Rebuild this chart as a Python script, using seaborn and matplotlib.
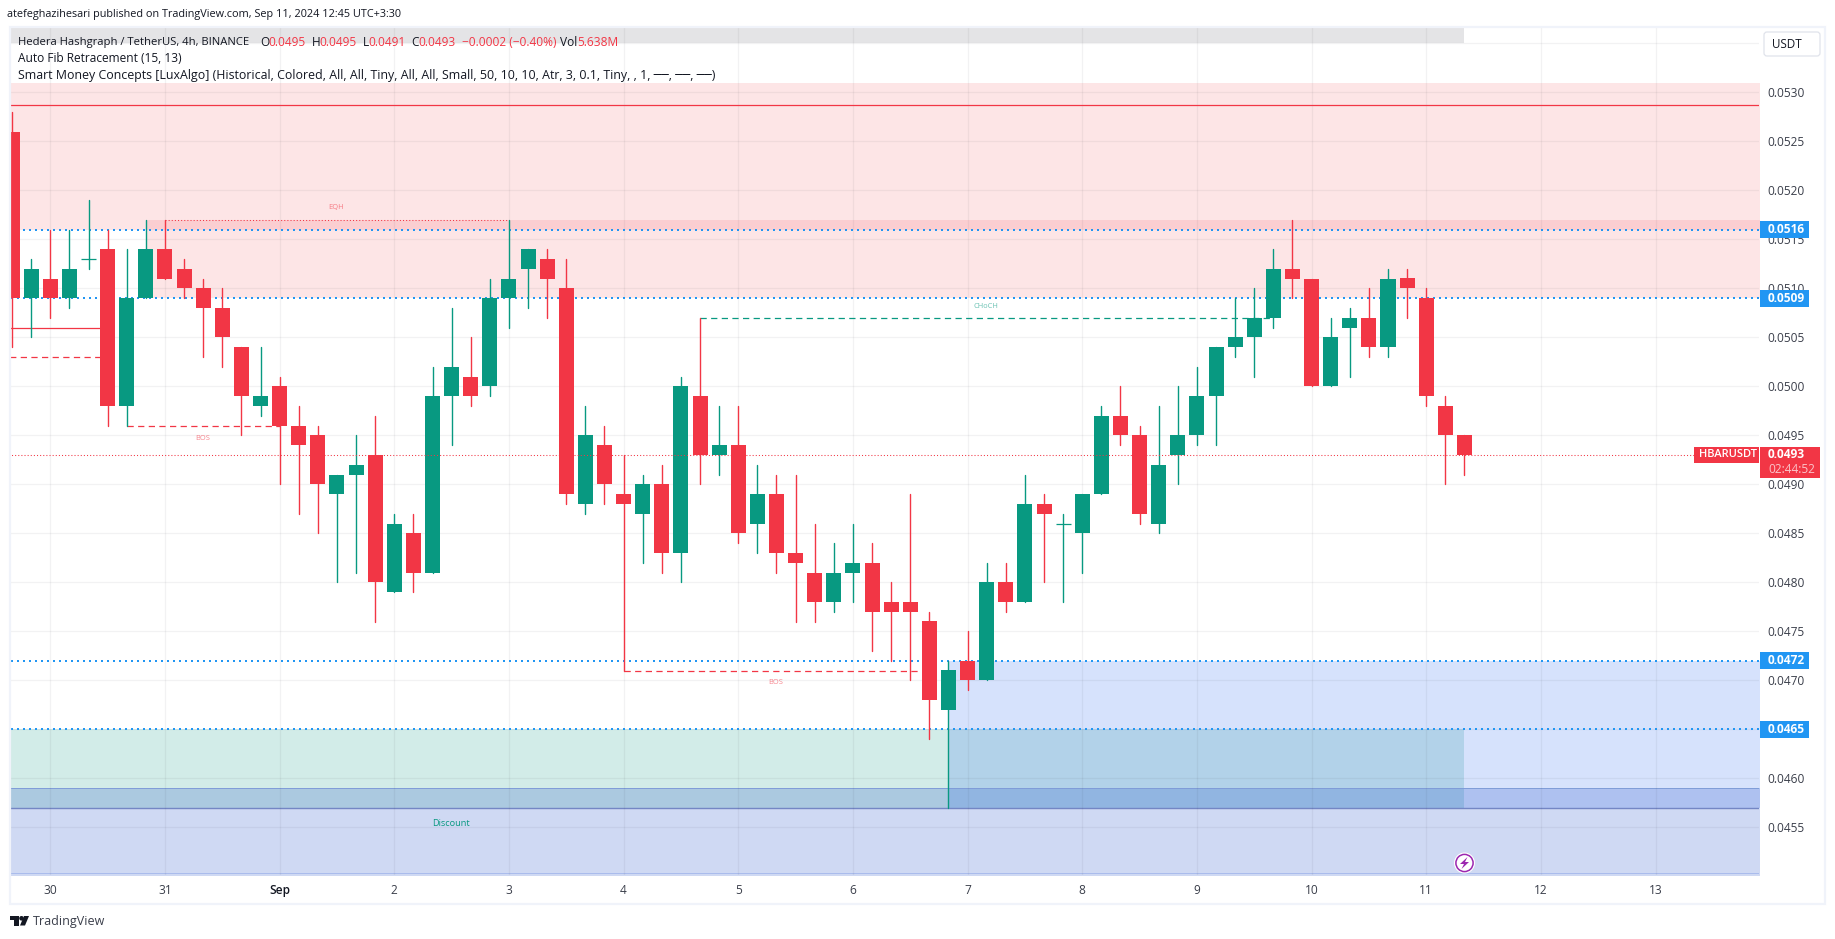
"""HBARUSDT 4h candles with Smart Money Concepts zones, TradingView layout."""

import matplotlib.pyplot as plt
import numpy as np
import pandas as pd
import seaborn as sns
from matplotlib.patches import Circle, FancyBboxPatch, Polygon, Rectangle
from matplotlib.transforms import Affine2D

# ── Data: prices in units of 0.0001 ───────────────────────────────
opens = [526, 509, 511, 509, 513, 514, 498, 509, 514, 512, 510, 508, 504, 498, 500, 496, 495, 489, 491, 493,
         479, 485, 481, 499, 501, 500, 509, 512, 513, 510, 488, 494, 489, 487, 490, 483, 499, 493, 494, 486,
         489, 483, 481, 478, 481, 482, 478, 478, 476, 467, 472, 470, 480, 478, 488, 486, 485, 489, 497, 495,
         486, 493, 495, 499, 504, 505, 507, 512, 511, 500, 506, 507, 504, 511, 509, 498, 495]
highs = [528, 513, 516, 516, 519, 516, 514, 517, 517, 513, 511, 510, 504, 504, 501, 498, 496, 491, 495, 497,
         487, 487, 502, 508, 505, 511, 517, 514, 514, 513, 498, 496, 493, 491, 492, 501, 507, 498, 498, 492,
         491, 491, 486, 484, 486, 484, 480, 489, 477, 472, 475, 482, 482, 491, 489, 487, 489, 498, 500, 496,
         498, 500, 502, 504, 509, 510, 514, 517, 511, 507, 508, 510, 512, 512, 510, 499, 495]
lows = [504, 505, 507, 508, 512, 496, 496, 509, 511, 509, 503, 502, 495, 497, 490, 487, 485, 480, 481, 476,
        479, 479, 481, 494, 498, 499, 506, 508, 507, 488, 487, 488, 471, 482, 481, 480, 490, 491, 484, 483,
        481, 476, 476, 477, 478, 473, 472, 470, 464, 457, 469, 470, 477, 478, 480, 478, 481, 489, 494, 486,
        485, 490, 494, 494, 503, 501, 506, 509, 500, 500, 501, 503, 503, 507, 498, 490, 491]
closes = [509, 512, 509, 512, 513, 498, 509, 514, 511, 510, 508, 505, 499, 499, 496, 494, 490, 491, 492, 480,
          486, 481, 499, 502, 499, 509, 511, 514, 511, 489, 495, 490, 488, 490, 483, 500, 493, 494, 485, 489,
          483, 482, 478, 481, 482, 477, 477, 477, 468, 471, 470, 480, 478, 488, 487, 486, 489, 497, 495, 487,
          492, 495, 499, 504, 505, 507, 512, 511, 500, 505, 507, 504, 511, 510, 499, 495, 493]

day_ticks = [2, 8, 14, 20, 26, 32, 38, 44, 50, 56, 62, 68, 74, 80, 86]
day_labels = ["30", "31", "Sep", "2", "3", "4", "5", "6", "7", "8", "9", "10", "11", "12", "13"]
price_ticks = [0.0535, 0.0530, 0.0525, 0.0520, 0.0515, 0.0510, 0.0505, 0.0500, 0.0495, 0.0490,
               0.0485, 0.0480, 0.0475, 0.0470, 0.0465, 0.0460, 0.0455]
price_labels = ["", "0.0530", "0.0525", "0.0520", "0.0515", "0.0510", "0.0505", "0.0500", "0.0495", "0.0490",
                "0.0485", "0.0480", "0.0475", "0.0470", "", "0.0460", "0.0455"]

# zones: start and end candle, low and high price
zone_starts = [-1, 7, -1, 49, -1, -1]
zone_ends = [92, 92, 76, 92, 92, 76]
zone_lows = [0.0516, 0.0509, 0.0457, 0.0457, 0.0450, 0.0535]
zone_highs = [0.0531, 0.0517, 0.0465, 0.0472, 0.0459, 0.0540]
zone_colors = ["#F23645", "#F23645", "#089981", "#326EF0", "#0F41C3", "#787B86"]
zone_alphas = [0.13, 0.13, 0.18, 0.20, 0.20, 0.20]

fib_levels = [0.0516, 0.0509, 0.0472, 0.0465]
fib_labels = ["0.0516", "0.0509", "0.0472", "0.0465"]
last_price = 0.0493
top_level = 0.05287

# structure lines: start candle, end candle, price
bos_starts = [-1, 6, 32]
bos_ends = [5, 14, 48]
bos_prices = [0.0503, 0.0496, 0.0471]

# ── Layout in pixels ──────────────────────────────────────────────
W, H = 1835, 939
AX_L, AX_R, AX_T, AX_B = 10, 1759, 27, 875
PX_PER_PRICE = 98000
X0, X_STEP = 12.08, 19.11

RED = "#F23645"
GREEN = "#089981"
BLUE = "#2196F3"
DARK = "#131722"
FRAME = "#F0F3FA"

sns.set_theme(style="white")
plt.rcParams["font.family"] = ["Open Sans", "DejaVu Sans"]

df = pd.DataFrame({
    "i": np.arange(len(opens)),
    "open": np.array(opens) / 10000,
    "high": np.array(highs) / 10000,
    "low": np.array(lows) / 10000,
    "close": np.array(closes) / 10000,
})
df["up"] = df["close"] >= df["open"]
df["body_low"] = df[["open", "close"]].min(axis=1)
df["body_size"] = (df["close"] - df["open"]).abs()

fig = plt.figure(figsize=(W / 100, H / 100), dpi=100, facecolor="white")
ax = fig.add_axes([AX_L / W, 1 - AX_B / H, (AX_R - AX_L) / W, (AX_B - AX_T) / H])

# transform for everything placed in screen pixels, y going down
px = Affine2D().scale(1, -1).translate(0, H)

# zones
for x0, x1, y0, y1, cor, alfa in zip(zone_starts, zone_ends, zone_lows, zone_highs, zone_colors, zone_alphas):
    ax.fill_between([x0, x1], y0, y1, color=cor, alpha=alfa, lw=0, zorder=1)
ax.hlines(0.0459, -1, 92, color="#7F9CD8", lw=0.7, zorder=1.5)
ax.hlines(0.0457, -1, 92, color="#7486C4", lw=1.0, zorder=1.5)
ax.hlines(0.04503, -1, 92, color="#A9BCEC", lw=0.7, zorder=1.5)

# levels under the candles
ax.hlines(fib_levels, -1, 92, color=BLUE, lw=1.44, linestyles=[(0, (1, 2))], zorder=2.6)
ax.hlines(top_level, -1, 92, color=RED, lw=0.9, zorder=2.6)
ax.hlines(0.0506, -1, 5, color=RED, lw=0.9, zorder=2.6)
ax.hlines(0.0517, 8, 26, color=RED, lw=0.75, linestyles=[(0, (1, 2))], zorder=2.6)
ax.hlines(bos_prices, bos_starts, bos_ends, color=RED, lw=0.9, linestyles=[(0, (5, 3.5))], zorder=2.6)
ax.hlines(0.0507, 36, 66, color=GREEN, lw=0.9, linestyles=[(0, (5, 3.5))], zorder=2.6)

# wicks
wicks = df.melt(id_vars=["i", "up"], value_vars=["high", "low"], value_name="price")
sns.lineplot(
    data=wicks, x="i", y="price", units="i", estimator=None, sort=False,
    hue="up", palette={True: GREEN, False: RED}, lw=1.0, legend=False, ax=ax, zorder=3,
)

# candle bodies
sns.barplot(
    data=df, x="i", y="body_size", bottom=df["body_low"], native_scale=True,
    width=0.785, color=GREEN, linewidth=0, saturation=1, ax=ax, zorder=3,
)
for barra, up, tamanho in zip(ax.patches, df["up"], df["body_size"]):
    cor = GREEN if up else RED
    barra.set_facecolor(cor)
    if tamanho == 0:  # doji
        barra.set_edgecolor(cor)
        barra.set_linewidth(0.9)

ax.hlines(last_price, -1, 88.2, color=RED, lw=0.75, linestyles=[(0, (1, 2))], zorder=4)

# axes
ax.set_xlim((AX_L - X0) / X_STEP, (AX_R - X0) / X_STEP)
ax.set_ylim(0.0530 - (AX_B - 92.3) / PX_PER_PRICE, 0.0530 + (92.3 - AX_T) / PX_PER_PRICE)
ax.set_xlabel("")
ax.set_ylabel("")
ax.set_xticks(day_ticks, day_labels)
ax.set_yticks(price_ticks, price_labels)
ax.yaxis.tick_right()
ax.tick_params(axis="both", length=0, labelsize=8.6, labelcolor="#3A3E4A")
ax.tick_params(axis="x", pad=6.5)
ax.tick_params(axis="y", pad=6.2)
for rotulo in ax.get_xticklabels():
    if rotulo.get_text() == "Sep":
        rotulo.set_color(DARK)
        rotulo.set_fontweight("semibold")
ax.set_axisbelow(False)
ax.grid(True, color="#2A2E39", alpha=0.06, lw=0.9)
sns.despine(ax=ax, left=True, bottom=True, top=True, right=True)

# small labels inside the chart
fig.text(336, 208, "EQH", transform=px, color=RED, alpha=0.6, fontsize=5.4, ha="center", va="center")
fig.text(203, 438, "BOS", transform=px, color=RED, alpha=0.6, fontsize=5.4, ha="center", va="center")
fig.text(776, 682, "BOS", transform=px, color=RED, alpha=0.6, fontsize=5.4, ha="center", va="center")
fig.text(986, 306, "CHoCH", transform=px, color=GREEN, alpha=0.6, fontsize=5.4, ha="center", va="center")
fig.text(451, 823, "Discount", transform=px, color=GREEN, fontsize=6.6, ha="center", va="center")


def caixa(x0, y0, x1, y1, cor):
    fig.add_artist(Rectangle((x0, y0), x1 - x0, y1 - y0, transform=px, facecolor=cor, edgecolor="none"))


# frame around the pane
fig.add_artist(Rectangle((10, 27), 1815, 877, transform=px, facecolor="none", edgecolor=FRAME, lw=1.6))

# price axis labels
for nivel, rotulo in zip(fib_levels, fib_labels):
    yc = 92.3 + (0.0530 - nivel) * PX_PER_PRICE
    caixa(1760, yc - 8.5, 1809, yc + 8.5, BLUE)
    fig.text(1768, yc, rotulo, transform=px, color="white", fontsize=8.6, fontweight="bold", va="center")

yc = 92.3 + (0.0530 - last_price) * PX_PER_PRICE
caixa(1694, yc - 8, 1759, yc + 8.5, RED)
fig.text(1699, yc, "HBARUSDT", transform=px, color="white", fontsize=8.0, fontweight="semibold", va="center")
caixa(1760, yc - 8, 1820, yc + 23, RED)
fig.text(1768, yc, "0.0493", transform=px, color="white", fontsize=8.6, fontweight="bold", va="center")
fig.text(1768, yc + 15, "02:44:52", transform=px, color="#FBC4C9", fontsize=8.6, va="center")

# currency button
fig.add_artist(FancyBboxPatch((1764, 32), 56, 24, boxstyle="round,pad=0,rounding_size=3", transform=px,
                              facecolor="white", edgecolor="#E0E3EB", lw=0.9))
fig.text(1772, 44.5, "USDT", transform=px, color=DARK, fontsize=8.4, va="center")

# header and legend text
fig.text(7, 15, "atefeghazihesari published on TradingView.com, Sep 11, 2024 12:45 UTC+3:30",
         transform=px, color=DARK, fontsize=7.85, va="center")
fig.text(18, 42, "Hedera Hashgraph / TetherUS, 4h, BINANCE", transform=px, color=DARK, fontsize=8.1, va="center")
for x, texto, cor in [
    (260, "O", DARK), (268, "0.0495", RED), (312, "H", DARK), (319.5, "0.0495", RED),
    (362.5, "L", DARK), (368.5, "0.0491", RED), (411.5, "C", DARK), (418.5, "0.0493", RED),
    (462, "−0.0002 (−0.40%)", RED), (560.5, "Vol", DARK), (577, "5.638M", RED),
]:
    fig.text(x, 42, texto, transform=px, color=cor, fontsize=8.6, va="center")
fig.text(18, 59, "Auto Fib Retracement (15, 13)", transform=px, color=DARK, fontsize=8.6, va="center")
fig.text(18, 76, "Smart Money Concepts [LuxAlgo] (Historical, Colored, All, All, Tiny, All, All, Small, "
                 "50, 10, 10, Atr, 3, 0.1, Tiny, , 1, ──, ──, ──)",
         transform=px, color=DARK, fontsize=8.95, va="center")

# lightning badge
fig.add_artist(Circle((1464.5, 863), 10.5, transform=px, facecolor="white", edgecolor="none"))
fig.add_artist(Circle((1464.5, 863), 8.6, transform=px, facecolor="white", edgecolor="#9C27B0", lw=1.1))
fig.add_artist(Polygon([(1467.5, 857), (1460, 864), (1464, 864), (1461.5, 869), (1469, 862), (1465, 862)],
                       transform=px, facecolor="#9C27B0", edgecolor="none"))

# TradingView mark
fig.add_artist(Polygon([(10, 916), (19, 916), (19, 925.5), (14, 925.5), (14, 920), (10, 920)],
                       transform=px, facecolor=DARK, edgecolor="none"))
fig.add_artist(Circle((21.5, 918.3), 2.3, transform=px, facecolor=DARK, edgecolor="none"))
fig.add_artist(Polygon([(29, 916), (25, 925.5), (20, 925.5), (24, 916)],
                       transform=px, facecolor=DARK, edgecolor="none"))
fig.text(33, 921, "TradingView", transform=px, color="#3A3E4A", fontsize=9.0, va="center")

fig.savefig("out.png", dpi=100, facecolor="white")
